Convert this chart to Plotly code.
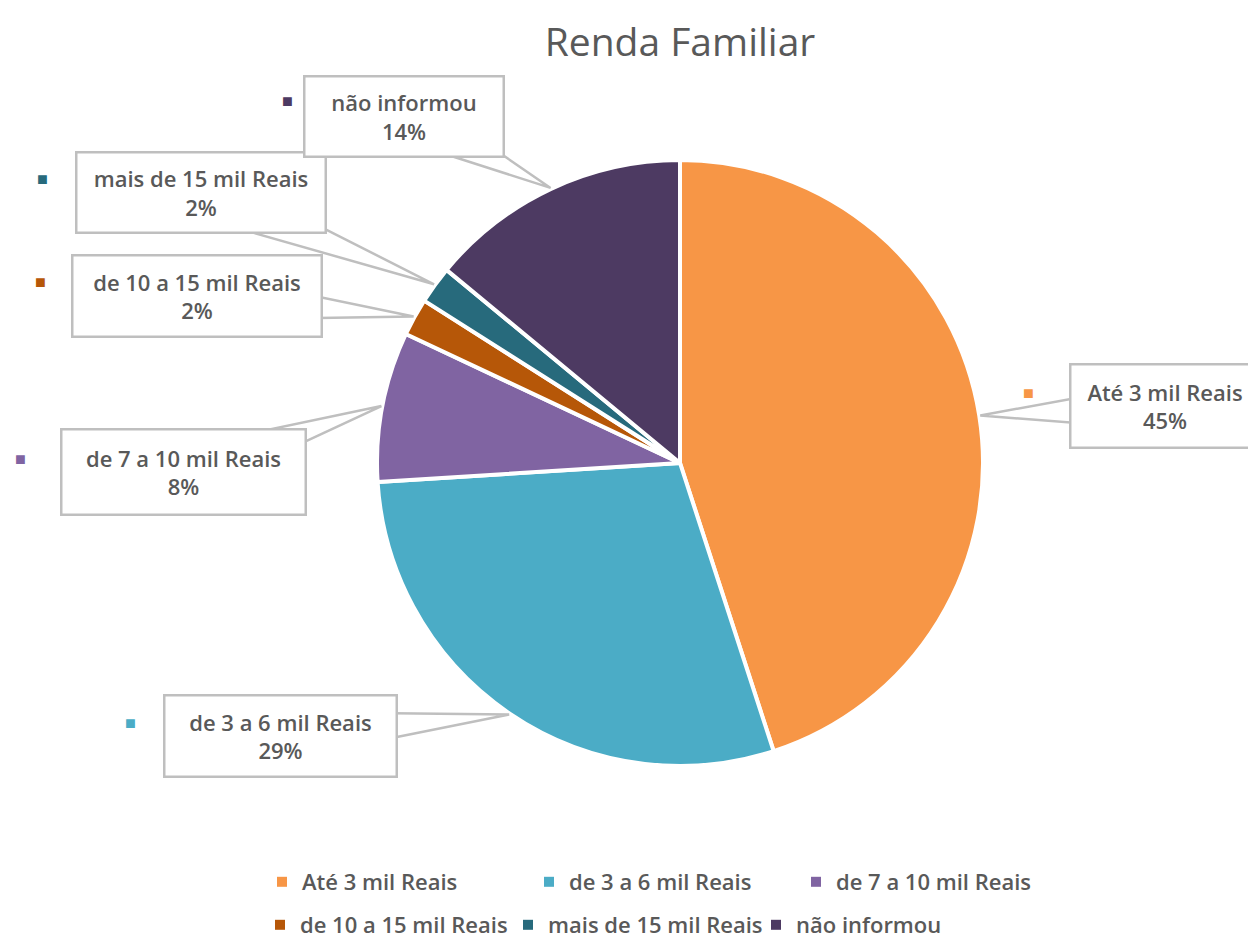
import math
import plotly.graph_objects as go

# ---- data ----
categories = ["Até 3 mil Reais", "de 3 a 6 mil Reais", "de 7 a 10 mil Reais",
              "de 10 a 15 mil Reais", "mais de 15 mil Reais", "não informou"]
values = [45, 29, 8, 2, 2, 14]
pct_labels = ["45%", "29%", "8%", "2%", "2%", "14%"]
colors = ["#F79646", "#4BACC6", "#8064A2", "#B65708", "#276A7C", "#4D3A62"]
legend_rows = [0, 0, 0, 1, 1, 1]

# ---- layout helpers ----
W_PX, H_PX = 1256, 950
OFF = 8  # page body margin
ML, MR, MT, MB = 150, 150, 0, 0
PW = W_PX - ML - MR
PH = H_PX - MT - MB


def fx(px):
    return (px - OFF - ML) / PW


def fy(py):
    return 1 - (py - OFF - MT) / PH


CX, CY, R = 680, 463, 303  # pie centre / radius in pixels

# label box centres (pixels), outer width/height, square marker positions
box_pos = {
    "Até 3 mil Reais": (1165, 406, 192, 86, (1028, 392)),
    "de 3 a 6 mil Reais": (280, 736, 235, 84, (130, 722)),
    "de 7 a 10 mil Reais": (183, 472, 247, 88, (20, 458)),
    "de 10 a 15 mil Reais": (197, 296, 252, 84, (40, 281)),
    "mais de 15 mil Reais": (201, 193, 252, 83, (42, 178)),
    "não informou": (404, 116, 202, 83, (287, 100)),
}

FONT = "Open Sans"
TXT = "#595959"
GRAY = "#BFBFBF"
PAD, BW = 9, 2.5

fig = go.Figure()
fig.add_trace(go.Pie(
    labels=categories, values=values, sort=False, direction="clockwise",
    rotation=0, showlegend=False,
    marker=dict(colors=colors, line=dict(color="white", width=4)),
    textinfo="none", hoverinfo="label+percent",
    domain=dict(x=[fx(CX - R), fx(CX + R)], y=[fy(CY + R), fy(CY - R)]),
))

# legend entries (two rows)
for cat, col, row in zip(categories, colors, legend_rows):
    fig.add_trace(go.Scatter(
        x=[None], y=[None], mode="markers", name=cat,
        marker=dict(symbol="square", size=10, color=col),
        legend="legend" if row == 0 else "legend2", hoverinfo="skip",
    ))

annotations = []
shapes = []
total = sum(values)
cum = 0
for cat, v, pl, col in zip(categories, values, pct_labels, colors):
    mid = (cum + v / 2) / total * 2 * math.pi
    cum += v
    tx = CX + (R + 1) * math.sin(mid)
    ty = CY - (R + 1) * math.cos(mid)
    bx, by, bw, bh, (sx, sy) = box_pos[cat]
    # wedge-shaped leader from box centre to slice edge
    dx, dy = tx - bx, ty - by
    L = math.hypot(dx, dy)
    nx, ny = -dy / L, dx / L
    hw = 24
    p1 = (bx + nx * hw, by + ny * hw)
    p2 = (bx - nx * hw, by - ny * hw)
    path = (f"M {fx(tx):.5f} {fy(ty):.5f} L {fx(p1[0]):.5f} {fy(p1[1]):.5f} "
            f"L {fx(p2[0]):.5f} {fy(p2[1]):.5f} Z")
    shapes.append(dict(type="path", path=path, xref="paper", yref="paper",
                       fillcolor="white", line=dict(color=GRAY, width=2.5),
                       layer="above"))
    annotations.append(dict(
        x=fx(bx), y=fy(by), xref="paper", yref="paper", showarrow=False,
        xanchor="center", yanchor="middle",
        text=f"{cat}<br>{pl}",
        bordercolor=GRAY, borderwidth=BW, borderpad=PAD,
        bgcolor="white", width=bw - 2 * PAD - 2 * BW, height=bh - 2 * PAD - 2 * BW,
        align="center", valign="middle",
        font=dict(family=FONT, size=22, color=TXT, weight=600),
    ))
    annotations.append(dict(
        x=fx(sx), y=fy(sy), xref="paper", yref="paper", showarrow=False,
        text="■", font=dict(size=18, color=col), xanchor="center", yanchor="middle",
    ))

legend_font = dict(family=FONT, size=22, color=TXT, weight=600)
fig.update_layout(
    width=W_PX, height=H_PX,
    margin=dict(l=ML, r=MR, t=MT, b=MB),
    paper_bgcolor="white", plot_bgcolor="white",
    xaxis=dict(visible=False), yaxis=dict(visible=False),
    title=dict(text="Renda Familiar", x=(680 - OFF) / W_PX, xref="container", xanchor="center",
               y=1 - (42 - OFF) / H_PX, yref="container", yanchor="middle",
               font=dict(family=FONT, size=39, color=TXT)),
    legend=dict(orientation="h", x=fx(262), xanchor="left", y=fy(882), yanchor="middle",
                entrywidth=222, entrywidthmode="pixels", traceorder="normal",
                font=legend_font, itemclick=False, itemdoubleclick=False),
    legend2=dict(orientation="h", x=fx(260), xanchor="left", y=fy(925), yanchor="middle",
                 entrywidth=203, entrywidthmode="pixels", traceorder="normal",
                 font=legend_font, itemclick=False, itemdoubleclick=False),
    annotations=annotations,
    shapes=shapes,
)

fig.write_html("out.html")
